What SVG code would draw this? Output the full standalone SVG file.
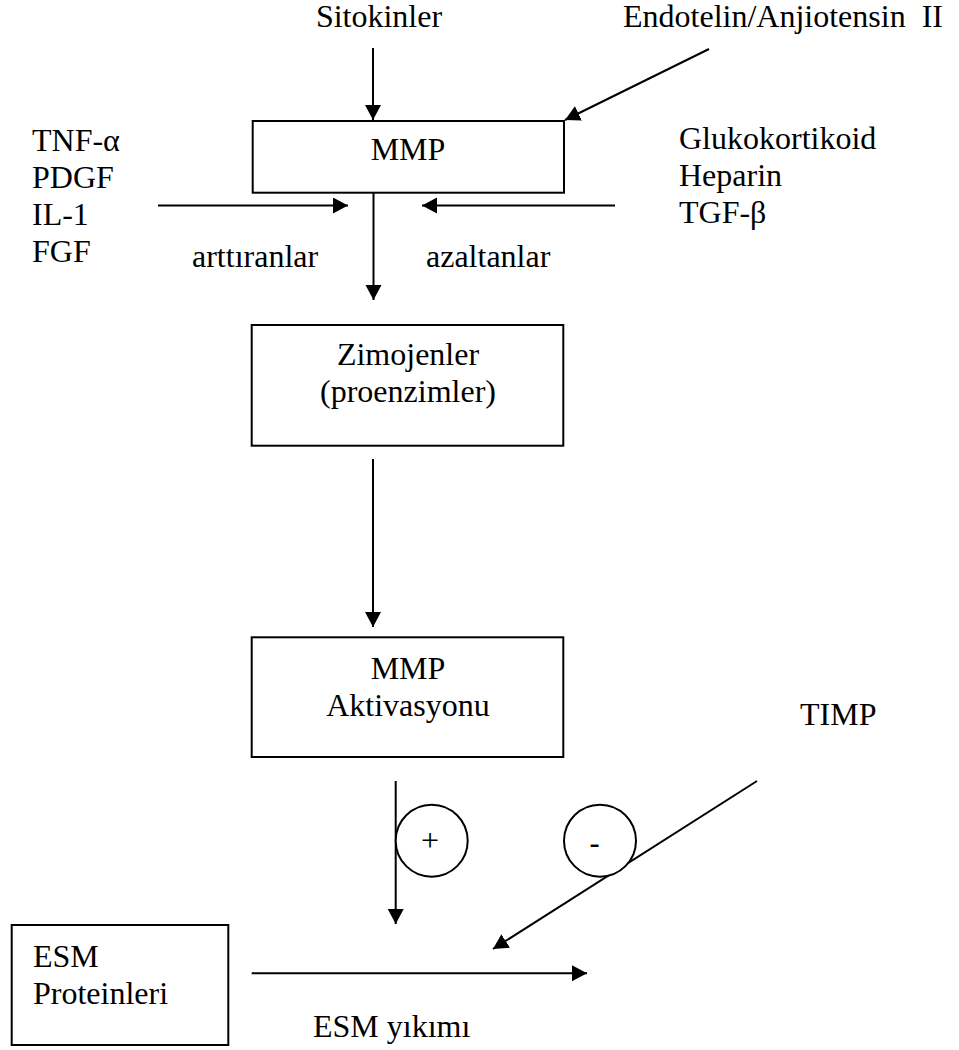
<svg xmlns="http://www.w3.org/2000/svg" width="959" height="1050" viewBox="0 0 959 1050">
<style>
  text { font-family: "Liberation Serif", "Times New Roman", serif; font-size: 32px; fill: #000; }
  .mid { text-anchor: middle; }
  .box { fill: #fff; stroke: #000; stroke-width: 2; }
  .arr { fill: none; stroke: #000; stroke-width: 2; marker-end: url(#ah); }
  .circ { fill: #fff; stroke: #000; stroke-width: 2; }
  .sans { font-family: "Liberation Sans", Arial, sans-serif; }
</style>
<defs>
  <marker id="ah" markerUnits="userSpaceOnUse" markerWidth="17" markerHeight="17" refX="15" refY="8" orient="auto">
    <path d="M0,0 L15,8 L0,16 Z" fill="#000"/>
  </marker>
</defs>
<rect width="959" height="1050" fill="#fff"/>

<g id="connectors">
  <line class="arr" x1="373" y1="48" x2="373" y2="120"/>
  <line class="arr" x1="709" y1="49" x2="565" y2="120"/>
  <line class="arr" x1="158" y1="205.5" x2="348" y2="205.5"/>
  <line class="arr" x1="615" y1="205.5" x2="422" y2="205.5"/>
  <line class="arr" x1="373.5" y1="193" x2="373.5" y2="300"/>
  <line class="arr" x1="373" y1="459" x2="373" y2="627"/>
  <line class="arr" x1="395.7" y1="781" x2="395.7" y2="924"/>
  <line class="arr" x1="757" y1="781" x2="493" y2="949"/>
  <line class="arr" x1="251.7" y1="973.3" x2="587" y2="973.3"/>
</g>

<g id="label-sitokinler"><text class="mid" x="379" y="27">Sitokinler</text></g>
<g id="label-endotelin"><text x="623" y="27" xml:space="preserve">Endotelin/Anjiotensin  II</text></g>

<g id="label-arttiranlar-list">
  <text x="32" y="151">TNF-α</text>
  <text x="32" y="188">PDGF</text>
  <text x="32" y="225">IL-1</text>
  <text x="32" y="262">FGF</text>
</g>
<g id="label-azaltanlar-list">
  <text x="679" y="149">Glukokortikoid</text>
  <text x="679" y="186">Heparin</text>
  <text x="679" y="223">TGF-β</text>
</g>
<g id="label-arttiranlar"><text x="192" y="267">arttıranlar</text></g>
<g id="label-azaltanlar"><text x="426" y="267">azaltanlar</text></g>

<g id="node-mmp">
  <rect class="box" x="252.7" y="121" width="311.3" height="71.7"/>
  <text class="mid" x="408" y="160">MMP</text>
</g>

<g id="node-zimojenler">
  <rect class="box" x="251.7" y="325" width="311.6" height="120.7"/>
  <text class="mid" x="408" y="365">Zimojenler</text>
  <text class="mid" x="408" y="402">(proenzimler)</text>
</g>

<g id="node-mmp-aktivasyonu">
  <rect class="box" x="251.7" y="637.3" width="311.6" height="119.7"/>
  <text class="mid" x="408" y="679">MMP</text>
  <text class="mid" x="408" y="716">Aktivasyonu</text>
</g>

<g id="label-timp"><text x="800" y="725">TIMP</text></g>

<g id="node-plus">
  <circle class="circ" cx="431.7" cy="840.7" r="36"/>
  <text class="mid" x="430" y="851">+</text>
</g>
<g id="node-minus">
  <circle class="circ" cx="600" cy="840.7" r="36"/>
  <text class="mid sans" x="594.5" y="854">-</text>
</g>

<g id="node-esm">
  <rect class="box" x="11.7" y="925" width="216.6" height="120"/>
  <text x="33" y="967">ESM</text>
  <text x="33" y="1004">Proteinleri</text>
</g>

<g id="label-esm-yikimi"><text x="313" y="1037">ESM yıkımı</text></g>
</svg>
